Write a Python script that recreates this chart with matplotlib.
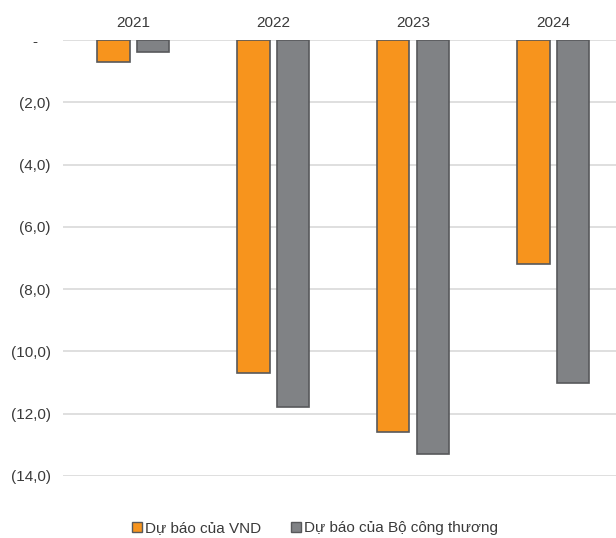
import matplotlib.pyplot as plt
import matplotlib.patches as mpatches
import numpy as np

years = ["2021", "2022", "2023", "2024"]
vnd = [-0.7, -10.7, -12.6, -7.2]
moit = [-0.4, -11.8, -13.3, -11.0]
yticks = [0, -2, -4, -6, -8, -10, -12, -14]
ytick_labels = ["-   ", "(2,0)", "(4,0)", "(6,0)", "(8,0)", "(10,0)", "(12,0)", "(14,0)"]

orange = "#F7941D"
gray = "#808285"
edge = "#58595B"
text_color = "#3A3A3A"

plt.rcParams['font.family'] = ['Liberation Sans', 'DejaVu Sans']

fig = plt.figure(figsize=(6.16, 5.38), dpi=100)
ax = fig.add_axes([63 / 616, 1 - 476 / 538, 1 - 63 / 616, (476 - 40) / 538])

x = np.arange(len(years))
w = 0.23
ax.bar(x - 0.14, vnd, width=w, color=orange, edgecolor=edge, linewidth=1.2, zorder=3,
       label="Dự báo của VND")
ax.bar(x + 0.145, moit, width=w, color=gray, edgecolor=edge, linewidth=1.2, zorder=3,
       label="Dự báo của Bộ công thương")

ax.set_xlim(-0.5, 3.45)
ax.set_ylim(-14, 0)
ax.set_yticks(yticks)
ax.set_yticklabels(ytick_labels, fontsize=11, color=text_color)
ax.yaxis.grid(True, color="#D9D9D9", linewidth=1.2, zorder=0)
ax.tick_params(axis='y', length=0, pad=9)
ax.xaxis.set_ticks_position('top')
ax.set_xticks(x)
ax.set_xticklabels(years, fontsize=11, color=text_color)
ax.tick_params(axis='x', length=0, pad=7)
for s in ax.spines.values():
    s.set_visible(False)

handles = [mpatches.Patch(facecolor=orange, edgecolor=edge, linewidth=1.0, label="Dự báo của VND"),
           mpatches.Patch(facecolor=gray, edgecolor=edge, linewidth=1.0, label="Dự báo của Bộ công thương")]
fig.legend(handles=handles, loc='center', bbox_to_anchor=(315 / 616, 1 - 528 / 538), ncol=2,
           frameon=False, fontsize=11, handlelength=0.65, handleheight=0.65, handletextpad=0.2,
           columnspacing=2.0, labelcolor=text_color)

fig.savefig("out.png", dpi=100)
